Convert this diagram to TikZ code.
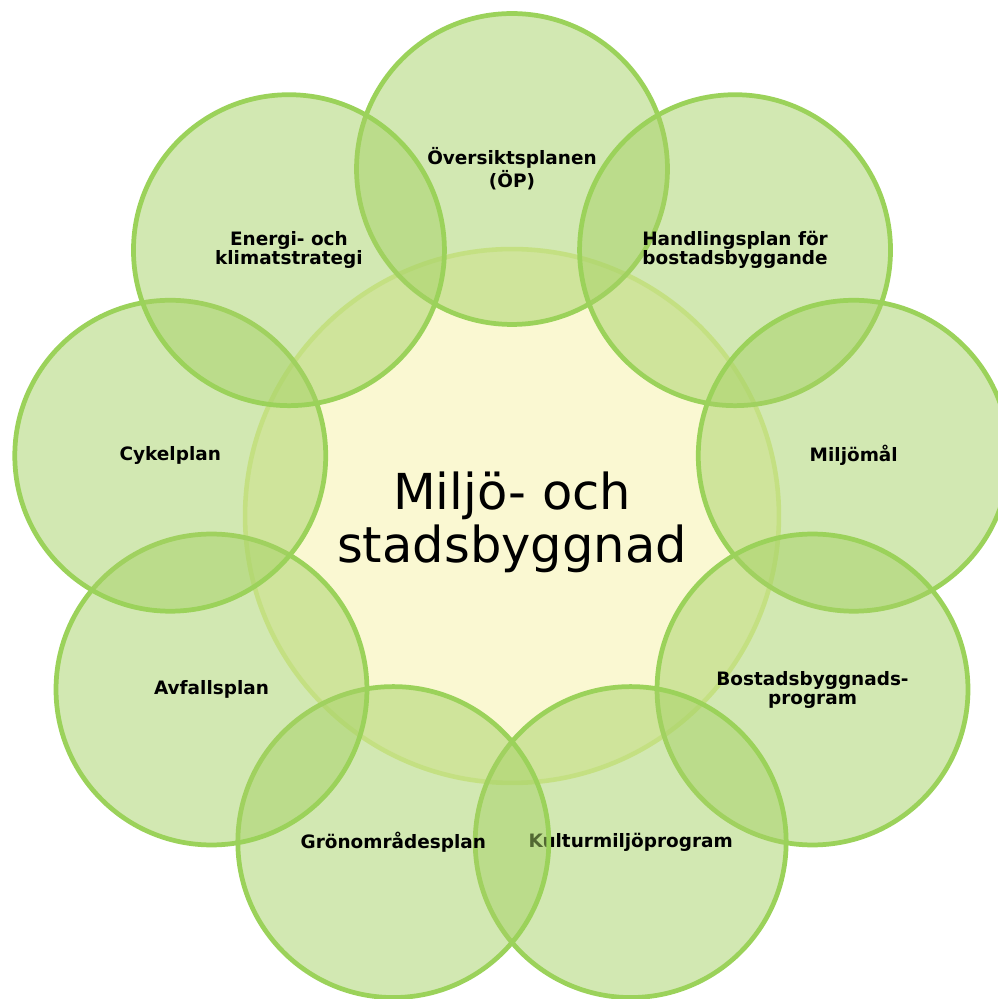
\documentclass[tikz,border=0pt]{standalone}
\usepackage{fontspec}
\setmainfont{DejaVu Sans}
\definecolor{petalfill}{RGB}{165,209,101}
\definecolor{petalline}{RGB}{155,210,90}
\definecolor{hubfill}{RGB}{250,248,210}
\definecolor{hubline}{RGB}{228,240,160}
\begin{document}
\begin{tikzpicture}[x=0.02cm,y=0.02cm,
  hub/.style={circle,draw=hubline,line width=2.6pt,fill=hubfill,minimum size=10.68cm,inner sep=0pt},
  title/.style={align=center,inner sep=0pt,font=\fontsize{28.2}{30.2}\selectfont},
  petal/.style={circle,draw=petalline,line width=2.7pt,fill=petalfill,fill opacity=0.5,text opacity=1,minimum size=6.22cm,inner sep=0pt,align=center,font=\bfseries\fontsize{10.5}{10.8}\selectfont}]
  \useasboundingbox (-512,-483) rectangle (485,516);
  % centre
  \node[hub] (hub) at (0,0) {};
  \node[title] (hubtext) at (0,-6) {Miljö- och\\stadsbyggnad};
  % the nine plans, clockwise from the top
  \node[petal] (op) at (90:347) {Översiktsplanen\\(ÖP)};
  \node[petal] (handling) at (50:347) {Handlingsplan för\\bostadsbyggande};
  \node[petal] (miljomal) at (10:347) {Miljömål};
  \node[petal] (bostad) at (-30:347) {Bostadsbyggnads-\\program};
  \node[petal] (kultur) at (-70:347) {Kulturmiljöprogram};
  \node[petal] (gron) at (-110:347) {Grönområdesplan};
  \node[petal] (avfall) at (-150:347) {Avfallsplan};
  \node[petal] (cykel) at (170:347) {Cykelplan};
  \node[petal] (energi) at (130:347) {Energi- och\\klimatstrategi};
\end{tikzpicture}
\end{document}
